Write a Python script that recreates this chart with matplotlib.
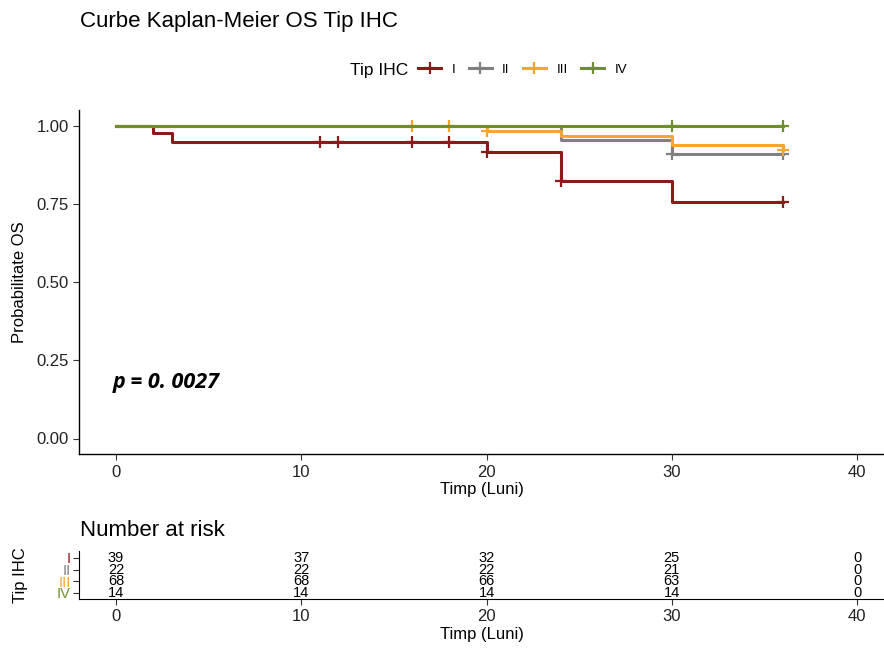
import numpy as np
import matplotlib
matplotlib.use("Agg")
from matplotlib import pyplot as plt
from matplotlib.lines import Line2D

plt.rcParams['font.family'] = ['Liberation Sans', 'DejaVu Sans']

# Kaplan-Meier step data per IHC type
groups = ['I', 'II', 'III', 'IV']
colors = ['#8B1A1A', '#808080', '#F7A52F', '#6F8F2F']

times_I = [0, 2, 3, 20, 24, 30, 36]
surv_I = [1.0, 0.977, 0.949, 0.918, 0.824, 0.758, 0.758]
cens_I = [11, 12, 16, 18, 20, 24, 36]

times_II = [0, 24, 30, 36]
surv_II = [1.0, 0.955, 0.909, 0.909]
cens_II = [30, 36]

times_III = [0, 20, 24, 30, 36]
surv_III = [1.0, 0.985, 0.969, 0.939, 0.923]
cens_III = [16, 18, 20, 36]

times_IV = [0, 36]
surv_IV = [1.0, 1.0]
cens_IV = [30, 36]

risk_times = [0, 10, 20, 30, 40]
risk_I = [39, 37, 32, 25, 0]
risk_II = [22, 22, 22, 21, 0]
risk_III = [68, 68, 66, 63, 0]
risk_IV = [14, 14, 14, 14, 0]

p_text = 'p = 0. 0027'

curves = [(times_I, surv_I, cens_I), (times_II, surv_II, cens_II),
          (times_III, surv_III, cens_III), (times_IV, surv_IV, cens_IV)]
risks = [risk_I, risk_II, risk_III, risk_IV]


def step_value(times, surv, t):
    idx = np.searchsorted(times, t, side='right') - 1
    return surv[idx]


fig = plt.figure(figsize=(8.84, 6.70), dpi=100)

W, H = 884.0, 670.0
x0_px, x40_px = 116.0, 857.0
unit = (x40_px - x0_px) / 40.0
xmin = -2.0
xmax = (W - x0_px) / unit
left = (x0_px + xmin * unit) / W
width = (xmax - xmin) * unit / W

# main plot
y1_px, y0_px = 126.0, 438.5
yu = y0_px - y1_px
top_px = y1_px - 0.05 * yu
bot_px = y0_px + 0.05 * yu
ax = fig.add_axes([left, 1 - bot_px / H, width, (bot_px - top_px) / H])

for (t, s, c), col in zip(curves, colors):
    ax.step(t, s, where='post', color=col, lw=2.2)
    cy = [step_value(t, s, ct) for ct in c]
    ax.plot(c, cy, ls='none', marker='+', ms=9, mew=1.6, color=col)

ax.set_xlim(xmin, xmax)
ax.set_ylim(-0.05, 1.05)
ax.set_xticks([0, 10, 20, 30, 40])
ax.set_yticks([0, 0.25, 0.5, 0.75, 1.0])
ax.set_yticklabels(['0.00', '0.25', '0.50', '0.75', '1.00'])
ax.spines['top'].set_visible(False)
ax.spines['right'].set_visible(False)
for sp in ['left', 'bottom']:
    ax.spines[sp].set_linewidth(1.0)
ax.tick_params(labelsize=12, length=4, colors='#333333', labelcolor='#222222')
ax.set_xlabel('Timp (Luni)', fontsize=12, labelpad=2)
ax.set_ylabel('')
fig.text(20 / W, 1 - 282 / H, 'Probabilitate OS', fontsize=12, rotation=90,
         ha='center', va='center')
ax.text(-0.2, 0.18, p_text, fontsize=15.5, fontweight='bold', fontstyle='italic',
        family=['Open Sans', 'DejaVu Sans'], ha='left', va='center')

fig.text(80 / W, 1 - 22 / H, 'Curbe Kaplan-Meier OS Tip IHC', fontsize=16, va='center')

# legend
fig.text(350 / W, 1 - 70 / H, 'Tip IHC', fontsize=12.5, va='center')
handles = [Line2D([0], [0], color=col, lw=2.2, marker='+', ms=9, mew=1.6) for col in colors]
fig.legend(handles, groups, loc='center left', bbox_to_anchor=(418 / W, 1 - 70 / H),
           ncol=4, frameon=False, fontsize=9.5, handlelength=1.75, handletextpad=0.8,
           columnspacing=1.0, borderpad=0, borderaxespad=0)

# number at risk table
rt_top, rt_bot = 551.0, 599.0
axr = fig.add_axes([left, 1 - rt_bot / H, width, (rt_bot - rt_top) / H])
ypos = [4, 3, 2, 1]
for risk, yp in zip(risks, ypos):
    for xt, n in zip(risk_times, risk):
        axr.text(xt, yp, str(n), fontsize=10.5, ha='center', va='center')
axr.set_xlim(xmin, xmax)
axr.set_ylim(0.45, 4.6)
axr.set_xticks([0, 10, 20, 30, 40])
axr.set_yticks(ypos)
axr.set_yticklabels(groups)
axr.spines['top'].set_visible(False)
axr.spines['right'].set_visible(False)
axr.tick_params(labelsize=12, length=4, colors='#333333', labelcolor='#222222')
axr.tick_params(axis='y', labelsize=10.5, pad=2)
for lab, col in zip(axr.get_yticklabels(), colors):
    lab.set_color(col)
axr.set_xlabel('Timp (Luni)', fontsize=12, labelpad=2)
fig.text(20 / W, 1 - 575 / H, 'Tip IHC', fontsize=12, rotation=90,
         ha='center', va='center')
fig.text(80 / W, 1 - 530 / H, 'Number at risk', fontsize=16, va='center')

fig.savefig('out.png', dpi=100)
